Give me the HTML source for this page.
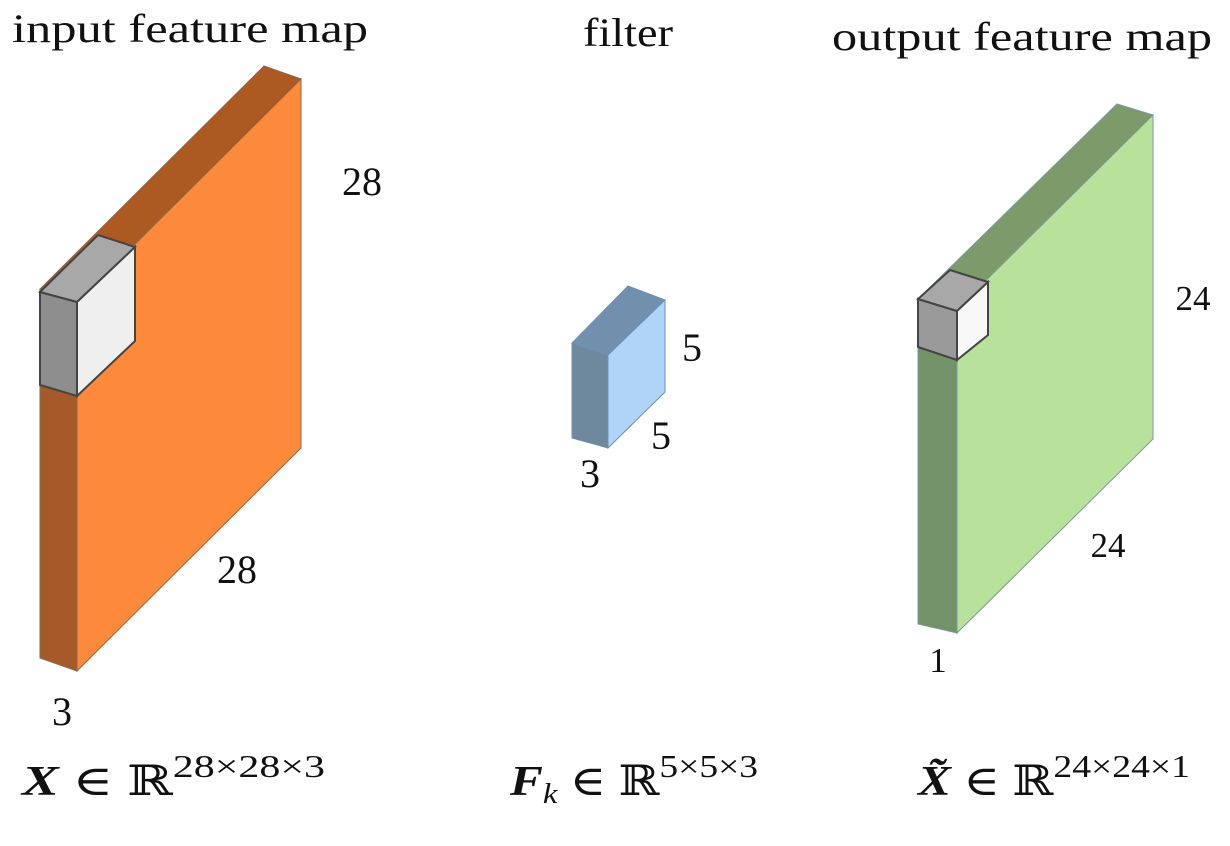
<!DOCTYPE html>
<html><head><meta charset="utf-8"><style>
html,body{margin:0;padding:0;background:#fff}
svg{display:block}
text{font-family:"Liberation Serif","DejaVu Serif",serif;fill:#111}
</style></head><body>
<svg width="1230" height="846" viewBox="0 0 1230 846">
<g font-size="40">
<text x="12" y="42" textLength="356" lengthAdjust="spacingAndGlyphs">input feature map</text>
<text x="583" y="46" textLength="90" lengthAdjust="spacingAndGlyphs">filter</text>
<text x="832" y="50" textLength="380" lengthAdjust="spacingAndGlyphs">output feature map</text>
</g>
<g stroke="#8a6a50" stroke-width="1">
<polygon points="40,289 77,302 77,671 40,658" fill="#a65a2a"/>
<polygon points="40,289 77,302 301,79 264,66" fill="#ad5a22"/>
<polygon points="77,302 301,79 301,448 77,671" fill="#fd8a3b"/>
</g>
<g stroke="#444" stroke-width="2">
<polygon points="40,292 77,302 77,396 40,385" fill="#8e8e8e"/>
<polygon points="40,292 77,302 135,247 98,235" fill="#a8a8a8"/>
<polygon points="77,302 135,247 135,341 77,396" fill="#efefef"/>
</g>
<g stroke="#7090b0" stroke-width="1">
<polygon points="572,343 608,355 608,448 572,438" fill="#6f889e"/>
<polygon points="572,343 608,355 665,300 628,286" fill="#7190ae"/>
<polygon points="608,355 665,300 665,392 608,448" fill="#afd4f8"/>
</g>
<g stroke="#7a9a9a" stroke-width="1">
<polygon points="918,299 957,309 957,633 918,624" fill="#74926a"/>
<polygon points="918,299 957,309 1153,115 1117,104" fill="#7c9a6a"/>
<polygon points="957,309 1153,115 1153,439 957,633" fill="#b8e29c"/>
</g>
<g stroke="#444" stroke-width="2">
<polygon points="918,299 957,311 957,360 918,347" fill="#9a9a9a"/>
<polygon points="918,299 957,311 988,282 950,270" fill="#a8a8a8"/>
<polygon points="957,311 988,282 988,335 957,360" fill="#f8f8f8"/>
</g>
<g font-size="40">
<text x="362" y="195" text-anchor="middle">28</text>
<text x="237" y="583" text-anchor="middle">28</text>
<text x="62" y="725" text-anchor="middle">3</text>
<text x="692" y="361" text-anchor="middle">5</text>
<text x="661" y="449" text-anchor="middle">5</text>
<text x="590" y="487" text-anchor="middle">3</text>
<text x="1193" y="310" text-anchor="middle" font-size="35">24</text>
<text x="1108" y="557" text-anchor="middle" font-size="35">24</text>
<text x="938" y="672" text-anchor="middle" font-size="35">1</text>
</g>
<g font-size="42">
<text x="22" y="795" textLength="303" lengthAdjust="spacingAndGlyphs"><tspan font-weight="bold" font-style="italic">X</tspan> ∈ ℝ<tspan dy="-18" font-size="32">28×28×3</tspan></text>
<text x="510" y="795" textLength="248" lengthAdjust="spacingAndGlyphs"><tspan font-weight="bold" font-style="italic">F</tspan><tspan font-style="italic" font-size="28" dy="8">k</tspan><tspan dy="-8"> ∈ ℝ</tspan><tspan dy="-18" font-size="32">5×5×3</tspan></text>
<text x="918" y="795" textLength="272" lengthAdjust="spacingAndGlyphs"><tspan font-weight="bold" font-style="italic">X̃</tspan> ∈ ℝ<tspan dy="-18" font-size="32">24×24×1</tspan></text>
</g>
</svg>
</body></html>
